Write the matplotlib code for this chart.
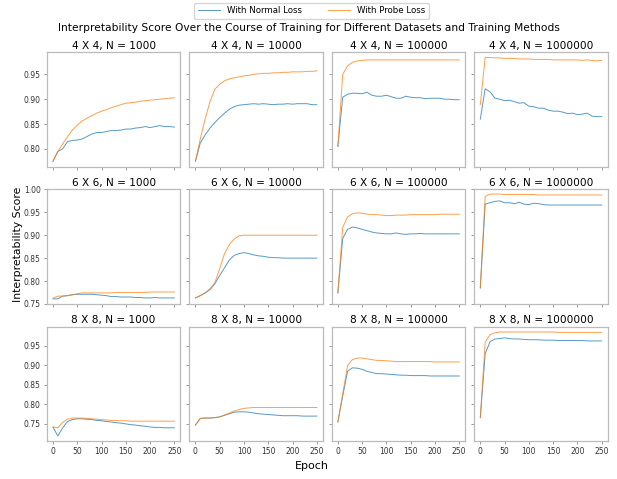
import matplotlib
matplotlib.use("Agg")
import matplotlib.pyplot as plt
import numpy as np

epochs = np.arange(0, 251, 10)

titles = [
    ["4 X 4, N = 1000", "4 X 4, N = 10000", "4 X 4, N = 100000", "4 X 4, N = 1000000"],
    ["6 X 6, N = 1000", "6 X 6, N = 10000", "6 X 6, N = 100000", "6 X 6, N = 1000000"],
    ["8 X 8, N = 1000", "8 X 8, N = 10000", "8 X 8, N = 100000", "8 X 8, N = 1000000"],
]

# 4 x 4
normal_4_1k = [0.775, 0.795, 0.800, 0.815, 0.817, 0.818, 0.820, 0.825, 0.830, 0.833, 0.833, 0.835, 0.837,
               0.837, 0.838, 0.840, 0.840, 0.842, 0.843, 0.845, 0.843, 0.845, 0.847, 0.845, 0.845, 0.844]
probe_4_1k = [0.775, 0.795, 0.810, 0.825, 0.838, 0.848, 0.856, 0.862, 0.867, 0.872, 0.876, 0.879, 0.883,
              0.886, 0.889, 0.892, 0.893, 0.894, 0.896, 0.897, 0.898, 0.899, 0.900, 0.901, 0.902, 0.903]
normal_4_10k = [0.775, 0.812, 0.828, 0.842, 0.853, 0.863, 0.872, 0.880, 0.885, 0.888, 0.889, 0.890, 0.891,
                0.890, 0.891, 0.890, 0.889, 0.890, 0.890, 0.891, 0.890, 0.891, 0.891, 0.891, 0.889, 0.889]
probe_4_10k = [0.775, 0.820, 0.860, 0.895, 0.920, 0.930, 0.937, 0.941, 0.943, 0.945, 0.947, 0.948, 0.950,
               0.951, 0.952, 0.952, 0.953, 0.953, 0.954, 0.954, 0.955, 0.955, 0.955, 0.956, 0.956, 0.957]
normal_4_100k = [0.805, 0.904, 0.910, 0.912, 0.912, 0.911, 0.914, 0.908, 0.906, 0.906, 0.908, 0.905, 0.902,
                 0.902, 0.906, 0.904, 0.903, 0.903, 0.901, 0.902, 0.902, 0.902, 0.900, 0.900, 0.899, 0.899]
probe_4_100k = [0.805, 0.950, 0.967, 0.974, 0.977, 0.978, 0.979, 0.979, 0.979, 0.979, 0.979, 0.979, 0.979,
                0.979, 0.979, 0.979, 0.979, 0.979, 0.979, 0.979, 0.979, 0.979, 0.979, 0.979, 0.979, 0.979]
normal_4_1m = [0.860, 0.921, 0.915, 0.902, 0.900, 0.897, 0.898, 0.895, 0.892, 0.893, 0.886, 0.885, 0.882,
               0.882, 0.878, 0.876, 0.876, 0.874, 0.871, 0.872, 0.869, 0.870, 0.872, 0.866, 0.865, 0.865]
probe_4_1m = [0.889, 0.984, 0.984, 0.983, 0.983, 0.982, 0.982, 0.982, 0.981, 0.981, 0.981, 0.980, 0.980,
              0.980, 0.980, 0.979, 0.979, 0.979, 0.979, 0.979, 0.979, 0.978, 0.979, 0.978, 0.977, 0.978]

# 6 x 6
normal_6_1k = [0.761, 0.761, 0.767, 0.768, 0.770, 0.771, 0.771, 0.771, 0.771, 0.770, 0.769, 0.768, 0.766,
               0.766, 0.765, 0.765, 0.765, 0.764, 0.764, 0.763, 0.763, 0.764, 0.763, 0.763, 0.763, 0.763]
probe_6_1k = [0.762, 0.767, 0.767, 0.768, 0.770, 0.772, 0.774, 0.774, 0.774, 0.774, 0.774, 0.774, 0.774,
              0.775, 0.775, 0.775, 0.775, 0.775, 0.775, 0.775, 0.776, 0.776, 0.776, 0.776, 0.776, 0.776]
normal_6_10k = [0.763, 0.768, 0.774, 0.781, 0.794, 0.812, 0.829, 0.846, 0.856, 0.860, 0.862, 0.860, 0.857,
                0.855, 0.854, 0.852, 0.851, 0.851, 0.850, 0.850, 0.850, 0.850, 0.850, 0.850, 0.850, 0.850]
probe_6_10k = [0.763, 0.768, 0.774, 0.783, 0.796, 0.827, 0.860, 0.880, 0.892, 0.899, 0.900, 0.900, 0.900,
               0.900, 0.900, 0.900, 0.900, 0.900, 0.900, 0.900, 0.900, 0.900, 0.900, 0.900, 0.900, 0.900]
normal_6_100k = [0.774, 0.893, 0.913, 0.918, 0.916, 0.913, 0.910, 0.907, 0.905, 0.904, 0.903, 0.903, 0.905,
                 0.903, 0.902, 0.903, 0.903, 0.904, 0.903, 0.903, 0.903, 0.903, 0.903, 0.903, 0.903, 0.903]
probe_6_100k = [0.774, 0.917, 0.940, 0.947, 0.949, 0.948, 0.946, 0.945, 0.945, 0.944, 0.943, 0.943, 0.944,
                0.944, 0.944, 0.945, 0.945, 0.945, 0.945, 0.945, 0.945, 0.946, 0.946, 0.946, 0.946, 0.946]
normal_6_1m = [0.785, 0.968, 0.971, 0.974, 0.975, 0.971, 0.971, 0.969, 0.972, 0.968, 0.967, 0.970, 0.969,
               0.967, 0.966, 0.966, 0.966, 0.966, 0.966, 0.966, 0.966, 0.966, 0.966, 0.966, 0.966, 0.966]
probe_6_1m = [0.785, 0.985, 0.990, 0.990, 0.990, 0.989, 0.989, 0.989, 0.989, 0.989, 0.989, 0.989, 0.988,
              0.988, 0.988, 0.988, 0.988, 0.988, 0.988, 0.988, 0.988, 0.988, 0.988, 0.988, 0.988, 0.988]

# 8 x 8
normal_8_1k = [0.742, 0.719, 0.740, 0.756, 0.761, 0.763, 0.763, 0.762, 0.761, 0.759, 0.758, 0.756, 0.755,
               0.753, 0.752, 0.750, 0.748, 0.747, 0.745, 0.744, 0.742, 0.741, 0.741, 0.740, 0.740, 0.740]
probe_8_1k = [0.742, 0.740, 0.754, 0.762, 0.765, 0.765, 0.765, 0.764, 0.763, 0.762, 0.761, 0.760, 0.759,
              0.759, 0.758, 0.758, 0.757, 0.757, 0.757, 0.757, 0.757, 0.757, 0.757, 0.757, 0.757, 0.757]
normal_8_10k = [0.747, 0.764, 0.765, 0.765, 0.766, 0.768, 0.772, 0.776, 0.780, 0.781, 0.781, 0.780, 0.778,
                0.776, 0.775, 0.774, 0.773, 0.772, 0.771, 0.771, 0.771, 0.771, 0.770, 0.770, 0.770, 0.770]
probe_8_10k = [0.747, 0.764, 0.765, 0.765, 0.766, 0.768, 0.773, 0.778, 0.783, 0.787, 0.790, 0.791, 0.792,
               0.792, 0.792, 0.792, 0.792, 0.792, 0.792, 0.792, 0.792, 0.792, 0.792, 0.792, 0.792, 0.792]
normal_8_100k = [0.755, 0.822, 0.885, 0.894, 0.893, 0.890, 0.885, 0.882, 0.879, 0.879, 0.878, 0.877, 0.876,
                 0.875, 0.875, 0.874, 0.874, 0.874, 0.874, 0.873, 0.873, 0.873, 0.873, 0.873, 0.873, 0.873]
probe_8_100k = [0.755, 0.827, 0.900, 0.915, 0.919, 0.919, 0.917, 0.915, 0.913, 0.913, 0.912, 0.911, 0.910,
                0.910, 0.910, 0.910, 0.910, 0.910, 0.910, 0.910, 0.909, 0.909, 0.909, 0.909, 0.909, 0.909]
normal_8_1m = [0.766, 0.930, 0.961, 0.968, 0.969, 0.971, 0.969, 0.968, 0.968, 0.967, 0.966, 0.966, 0.966,
               0.965, 0.965, 0.965, 0.964, 0.964, 0.964, 0.964, 0.964, 0.964, 0.963, 0.963, 0.963, 0.963]
probe_8_1m = [0.766, 0.960, 0.979, 0.984, 0.986, 0.986, 0.986, 0.986, 0.986, 0.986, 0.986, 0.986, 0.986,
              0.986, 0.986, 0.986, 0.985, 0.985, 0.985, 0.985, 0.985, 0.985, 0.985, 0.985, 0.985, 0.985]

normal = [[normal_4_1k, normal_4_10k, normal_4_100k, normal_4_1m],
          [normal_6_1k, normal_6_10k, normal_6_100k, normal_6_1m],
          [normal_8_1k, normal_8_10k, normal_8_100k, normal_8_1m]]
probe = [[probe_4_1k, probe_4_10k, probe_4_100k, probe_4_1m],
         [probe_6_1k, probe_6_10k, probe_6_100k, probe_6_1m],
         [probe_8_1k, probe_8_10k, probe_8_100k, probe_8_1m]]

fig, axes = plt.subplots(3, 4, figsize=(6.17, 4.79), dpi=100, sharex=True, sharey='row')
fig.subplots_adjust(left=0.076, right=0.985, top=0.891, bottom=0.079, wspace=0.067, hspace=0.2)

for i in range(3):
    for j in range(4):
        ax = axes[i, j]
        l1, = ax.plot(epochs, normal[i][j], color='tab:blue', lw=0.7, alpha=0.75, label='With Normal Loss')
        l2, = ax.plot(epochs, probe[i][j], color='tab:orange', lw=0.7, alpha=0.75, label='With Probe Loss')
        ax.set_title(titles[i][j], fontsize=7.6, pad=2.5)
        ax.set_xticks([0, 50, 100, 150, 200, 250])
        ax.tick_params(labelsize=5.5, colors='#888888', labelcolor='#333333', length=2.5, width=0.6, pad=2)
        for s in ax.spines.values():
            s.set_color('#bbbbbb')
            s.set_linewidth(0.9)

axes[1, 0].set_ylim(0.75, 1.0)

fig.suptitle('Interpretability Score Over the Course of Training for Different Datasets and Training Methods',
             fontsize=7.7, y=0.952)
fig.legend([l1, l2], ['With Normal Loss', 'With Probe Loss'], loc='upper center', ncol=2,
           bbox_to_anchor=(0.505, 1.003), fontsize=6.2, columnspacing=3.0, handlelength=2.6)
fig.text(0.029, 0.49, 'Interpretability Score', rotation=90, ha='center', va='center', fontsize=7.8)
fig.text(0.505, 0.027, 'Epoch', ha='center', va='center', fontsize=8)

fig.savefig('out.png', dpi=100)
